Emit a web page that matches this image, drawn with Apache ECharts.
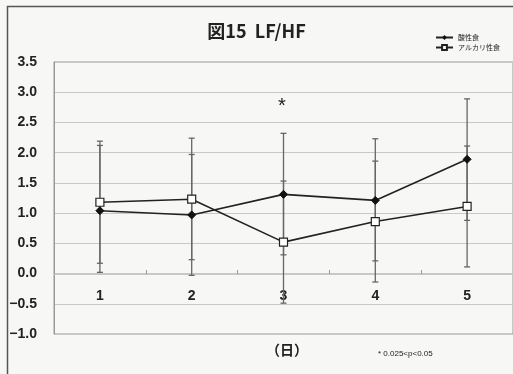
<!DOCTYPE html>
<html>
<head>
<meta charset="utf-8">
<script src="https://cdn.jsdelivr.net/npm/echarts@6/dist/echarts.min.js"></script>
<style>
  html, body { margin: 0; padding: 0; background: #f7f7f5; }
  #chart { width: 513px; height: 374px; }
</style>
</head>
<body>
<div id="chart"></div>
<script>
const days = ["1", "2", "3", "4", "5"];

// 酸性食 (filled diamond)
const acidMean = [1.04, 0.97, 1.31, 1.21, 1.89];
const acidHigh = [2.12, 1.97, 2.32, 2.23, 2.89];
const acidLow = [0.02, -0.03, 0.31, 0.21, 0.88];

// アルカリ性食 (open square)
const alkMean = [1.18, 1.23, 0.52, 0.86, 1.11];
const alkHigh = [2.19, 2.24, 1.53, 1.86, 2.11];
const alkLow = [0.17, 0.23, -0.49, -0.14, 0.11];

const chart = echarts.init(document.getElementById("chart"));

function errorData(low, high) {
  return days.map((d, i) => [i, low[i], high[i]]);
}

function renderError(params, api) {
  const x = api.value(0);
  const lo = api.coord([x, api.value(1)]);
  const hi = api.coord([x, api.value(2)]);
  const cap = 3;
  const style = { stroke: "#666", lineWidth: 1.3 };
  return {
    type: "group",
    children: [
      { type: "line", shape: { x1: hi[0], y1: hi[1], x2: lo[0], y2: lo[1] }, style },
      { type: "line", shape: { x1: hi[0] - cap, y1: hi[1], x2: hi[0] + cap, y2: hi[1] }, style },
      { type: "line", shape: { x1: lo[0] - cap, y1: lo[1], x2: lo[0] + cap, y2: lo[1] }, style }
    ]
  };
}

chart.setOption({
  backgroundColor: "#f7f7f5",
  animation: false,
  grid: {
    left: 54, right: -4, top: 62, bottom: 40,
    show: true, borderColor: "#999", borderWidth: 1
  },
  legend: {
    orient: "vertical",
    left: 430, top: 29,
    itemWidth: 17, itemHeight: 6, itemGap: 3,
    textStyle: { fontSize: 7, color: "#222", fontFamily: "Noto Sans CJK JP" },
    data: ["酸性食", "アルカリ性食"]
  },
  xAxis: {
    type: "category",
    data: days,
    boundaryGap: true,
    offset: -60,
    axisLine: { show: true, onZero: false, lineStyle: { color: "#c8c8c8", width: 1 } },
    axisTick: { show: true, inside: true, length: 4, lineStyle: { color: "#999" } },
    axisLabel: { margin: 15, fontSize: 14, fontWeight: "bold", color: "#222", fontFamily: "Liberation Sans" },
    splitLine: { show: false }
  },
  yAxis: {
    type: "value",
    min: -1, max: 3.5, interval: 0.5,
    axisLine: { show: true, lineStyle: { color: "#999" } },
    axisTick: { show: false },
    axisLabel: {
      margin: 17, fontSize: 14, fontWeight: "bold", color: "#222", fontFamily: "Liberation Sans",
      formatter: v => v.toFixed(1).replace("-", "\u2212")
    },
    splitLine: { lineStyle: { color: "#c8c8c8", width: 1 } }
  },
  series: [
    {
      type: "custom", name: "acidErr", renderItem: renderError,
      data: errorData(acidLow, acidHigh), z: 1, silent: true
    },
    {
      type: "custom", name: "alkErr", renderItem: renderError,
      data: errorData(alkLow, alkHigh), z: 1, silent: true
    },
    {
      type: "line", name: "酸性食", data: acidMean, z: 3,
      symbol: "diamond", symbolSize: 8,
      itemStyle: { color: "#111", borderColor: "#111" },
      lineStyle: { color: "#222", width: 1.6 }
    },
    {
      type: "line", name: "アルカリ性食", data: alkMean, z: 4,
      symbol: "rect", symbolSize: 8, showAllSymbol: true,
      itemStyle: { color: "#fff", borderColor: "#222", borderWidth: 1.2 },
      lineStyle: { color: "#222", width: 1.6 }
    }
  ],
  graphic: [
    {
      type: "rect", left: 5, top: 4, silent: true,
      shape: { width: 520, height: 380 },
      style: { fill: null, stroke: "#555", lineWidth: 1.5 }
    },
    {
      type: "text", left: "center", top: 22,
      style: { text: "図15  LF/HF", fontSize: 18, fontWeight: "bold", fill: "#222", fontFamily: "Noto Sans CJK JP" }
    },
    {
      type: "text", left: 278, top: 96,
      style: { text: "*", fontSize: 20, fill: "#222", fontFamily: "Liberation Sans" }
    },
    {
      type: "text", left: 266, top: 343,
      style: { text: "（日）", fontSize: 14, fontWeight: "bold", fill: "#222", fontFamily: "Noto Sans CJK JP" }
    },
    {
      type: "text", left: 378, top: 350,
      style: { text: "* 0.025<p<0.05", fontSize: 8, fill: "#222", fontFamily: "Liberation Sans" }
    }
  ]
});
</script>
</body>
</html>
